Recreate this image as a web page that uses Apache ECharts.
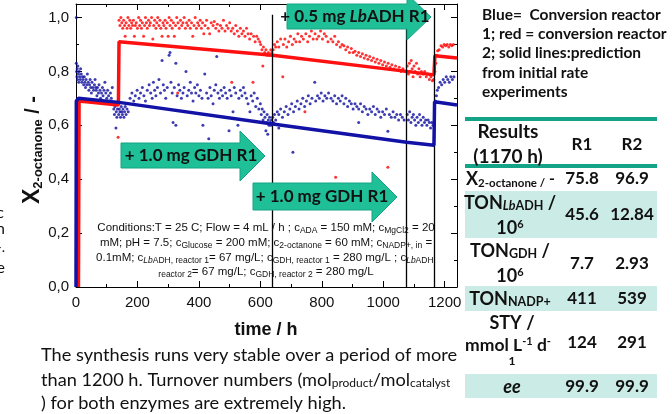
<!DOCTYPE html>
<html><head><meta charset="utf-8">
<script src="https://cdn.jsdelivr.net/npm/echarts@6/dist/echarts.min.js"></script>
<style>html,body{margin:0;padding:0;background:#fff}#c{width:672px;height:414px}</style>
</head><body><div id="c"></div>
<script>
// ---------- data ----------
const xTickValues = [0, 200, 400, 600, 800, 1000, 1200];
const yTickValues = [0, 0.2, 0.4, 0.6, 0.8, 1.0];
const eventTimes = [640, 1076, 1167];
const eventTops = [1.01, 1.0, 1.035];

// prediction lines [time h, conversion]
const reactor1Model = [[0,0],[1,0.69],[8,0.70],[140,0.685],[640,0.605],[1076,0.537],[1165,0.526],[1167,0.687],[1240,0.675]];
const reactor2Model = [[8,0],[10,0.69],[138,0.675],[140,0.91],[640,0.86],[1076,0.80],[1165,0.787],[1168,0.858],[1240,0.85]];

// measured conversions, reactor 1 (blue)
const reactor1Points = [
[1,1.0],[1,0.83],[2,0.80],[3,0.78],[4,0.81],[5,0.77],[6,0.82],[8,0.79],[9,0.76],[10,0.80],[12,0.78],[14,0.77],[15,0.81],[17,0.79],[19,0.76],[21,0.78],
[23,0.77],[25,0.75],[27,0.78],[29,0.76],[31,0.74],[33,0.77],[35,0.75],[37,0.79],[40,0.76],[42,0.73],[44,0.75],[46,0.77],[48,0.74],[50,0.72],[52,0.76],[55,0.74],[57,0.73],[60,0.75],[62,0.77],[64,0.74],
[66,0.73],[68,0.71],[70,0.74],[73,0.72],[75,0.75],[78,0.73],[80,0.70],[83,0.72],[86,0.74],[88,0.71],[91,0.73],[94,0.76],[97,0.72],[100,0.70],[103,0.73],[106,0.71],[109,0.69],[112,0.72],[115,0.70],[118,0.74],
[120,0.68],[123,0.66],[125,0.64],[127,0.67],[130,0.59],[131,0.65],[133,0.63],[135,0.66],[137,0.68],[139,0.64],[141,0.66],[143,0.65],[145,0.63],[147,0.67],[149,0.65],[151,0.64],[153,0.66],[156,0.63],[158,0.65],[160,0.67],[163,0.64],[166,0.66],[170,0.65],
[176,0.70],[182,0.72],[188,0.69],[193,0.71],[199,0.73],[205,0.70],[210,0.72],[216,0.74],[221,0.71],[226,0.69],[232,0.73],[238,0.75],[243,0.72],[248,0.70],[252,0.76],[256,0.73],[260,0.71],[265,0.74],[270,0.77],[275,0.72],[280,0.84],[284,0.75],[288,0.73],[292,0.70],[297,0.74],[303,0.86],[306,0.87],[309,0.76],[313,0.72],[316,0.61],[320,0.74],[325,0.83],[325,0.60],[329,0.71],[334,0.75],[338,0.73],[343,0.70],[348,0.72],[352,0.74],[358,0.80],[362,0.71],[367,0.73],[372,0.76],[376,0.72],[381,0.69],[386,0.74],[390,0.72],[395,0.75],[400,0.71],[405,0.73],[410,0.70],[413,0.60],
[419,0.79],[425,0.72],[430,0.70],[432,0.55],[436,0.74],[440,0.71],[446,0.68],[450,0.73],[455,0.75],[458,0.855],[462,0.72],[467,0.70],[472,0.73],[477,0.71],[482,0.74],[487,0.72],[492,0.70],[498,0.58],[500,0.73],[505,0.71],[511,0.65],[515,0.74],[520,0.72],[527,0.60],[530,0.70],[535,0.73],[540,0.71],[545,0.74],[550,0.72],[555,0.70],[560,0.68],[566,0.65],[570,0.71],[575,0.69],[580,0.72],[585,0.67],[590,0.70],[595,0.66],
[600,0.68],[603,0.64],[606,0.66],[609,0.62],[612,0.65],[615,0.63],[618,0.58],[620,0.61],[622,0.64],[624,0.567],[626,0.62],[628,0.60],[630,0.63],[632,0.61],[634,0.60],[636,0.62],
[640,0.63],[643,0.61],[646,0.64],[650,0.62],[655,0.65],[660,0.59],[660,0.64],[666,0.66],[672,0.63],[678,0.65],[684,0.67],[690,0.64],[696,0.66],[702,0.68],[706,0.50],[708,0.65],[714,0.67],[720,0.69],[726,0.66],[732,0.68],[738,0.70],[744,0.67],[750,0.69],[756,0.71],[762,0.68],[768,0.70],[777,0.76],[780,0.69],[786,0.71],[792,0.70],[798,0.72],[804,0.69],[810,0.71],[816,0.70],[822,0.72],
[830,0.70],[836,0.69],[842,0.71],[848,0.68],[854,0.70],[860,0.69],[866,0.71],[872,0.68],[878,0.70],[884,0.67],[890,0.69],[896,0.68],[902,0.66],[908,0.68],[914,0.67],[920,0.61],[920,0.66],[926,0.68],[932,0.65],[938,0.67],[944,0.66],[950,0.64],[956,0.66],[962,0.65],[968,0.67],[974,0.64],[980,0.66],[986,0.65],[992,0.63],[998,0.65],[1004,0.64],[1010,0.66],[1015,0.578],[1020,0.64],[1026,0.63],[1032,0.65],[1038,0.63],[1044,0.64],[1050,0.62],[1056,0.64],[1062,0.63],[1068,0.62],
[1078,0.64],[1082,0.62],[1086,0.65],[1090,0.61],[1094,0.63],[1098,0.64],[1102,0.62],[1106,0.60],[1110,0.63],[1114,0.61],[1118,0.64],[1122,0.62],[1126,0.60],[1130,0.63],[1134,0.61],[1138,0.62],[1142,0.60],[1146,0.62],[1150,0.61],[1154,0.59],[1158,0.61],[1162,0.60],
[1167,0.66],[1170,0.69],[1173,0.71],[1176,0.73],[1180,0.74],
[1185,0.76],[1190,0.75],[1195,0.77],[1200,0.76],[1205,0.78],[1210,0.77],[1215,0.76],[1220,0.78],[1225,0.77],[1230,0.78]
];

// measured conversions, reactor 2 (red)
const reactor2Points = [
[137,0.556],[140,0.99],[143,0.97],[146,1.0],[149,0.98],[152,0.96],[155,0.99],[158,0.97],[160,0.93],[163,0.98],[166,0.96],[169,1.0],[172,0.97],[175,0.99],[178,0.96],[181,0.98],[184,0.97],[187,0.99],[190,0.93],[193,0.97],[196,0.98],[200,0.96],[204,1.0],[207,0.97],[210,0.99],[213,0.96],[216,0.98],[220,0.93],[223,0.97],[226,1.0],[229,0.98],[232,0.96],[236,0.99],[239,0.97],[242,0.98],[246,1.0],[250,0.92],[253,0.97],[256,0.99],[260,0.96],[263,0.98],[266,1.0],[270,0.97],[273,0.99],[276,0.96],[280,0.93],[283,0.98],[286,0.97],[290,0.99],[293,0.96],[297,0.98],[300,0.93],[303,1.0],[306,0.97],[310,0.99],[313,0.96],[317,0.98],[320,0.93],[324,0.97],[328,1.0],[331,0.72],[332,0.98],[336,0.96],[340,0.99],[344,0.97],[348,0.98],[352,1.0],[356,0.96],[360,0.98],[364,0.97],[368,0.99],[372,0.96],[376,0.98],[380,0.93],[384,0.97],[388,1.0],[392,0.96],[396,0.98],[400,0.97],[404,0.99],[408,0.96],[412,0.98],[416,0.94],[420,0.97],
[425,0.99],[430,0.96],[435,0.94],[440,0.98],[446,0.97],[450,0.985],[455,0.96],[460,0.975],[465,0.95],[470,0.97],[475,0.96],[480,0.99],[485,0.95],[490,0.97],[495,0.96],[500,0.98],[505,0.95],[507,0.76],[510,0.96],[515,0.94],[520,0.97],[525,0.95],[530,0.93],[535,0.96],[540,0.94],[545,0.95],[550,0.93],[555,0.96],[560,0.94],[565,0.92],[570,0.94],[576,0.76],[578,0.93],[583,0.91],[588,0.93],[593,0.92],[598,0.91],
[601,0.90],[605,0.88],[608,0.82],[610,0.89],[614,0.87],[618,0.88],[622,0.86],[626,0.87],[630,0.86],[634,0.88],[637,0.87],
[642,0.88],[646,0.90],[650,0.89],[655,0.91],[660,0.89],[666,0.92],[673,0.78],[675,0.90],[680,0.92],[686,0.89],[692,0.91],[698,0.93],[704,0.90],[710,0.92],[716,0.91],[722,0.94],[728,0.91],[734,0.93],[740,0.92],[745,0.65],[748,0.94],[754,0.91],[760,0.93],[766,0.95],[772,0.92],[778,0.94],[784,0.92],[790,0.93],[796,0.95],[802,0.92],[808,0.94],[814,0.93],[820,0.91],
[830,0.92],[836,0.91],[842,0.93],[845,0.407],[848,0.90],[854,0.91],[860,0.89],[866,0.90],[872,0.895],[878,0.88],[884,0.89],[890,0.87],[896,0.885],[902,0.87],[908,0.875],[914,0.86],[920,0.87],[926,0.855],[932,0.865],[938,0.85],[944,0.86],[950,0.845],[956,0.855],[962,0.84],[968,0.85],[974,0.835],[980,0.845],[986,0.83],[992,0.84],[998,0.825],[1004,0.835],[1010,0.82],[1015,0.444],[1016,0.83],[1022,0.815],[1028,0.825],[1034,0.81],[1040,0.82],[1046,0.805],[1052,0.815],[1058,0.80],[1064,0.81],[1070,0.80],
[1078,0.82],[1082,0.79],[1085,0.83],[1088,0.80],[1091,0.84],[1094,0.81],[1097,0.78],[1100,0.82],[1104,0.80],[1108,0.83],[1112,0.79],[1116,0.81],[1120,0.78],[1124,0.80],[1130,0.79],[1135,0.80],[1140,0.78],[1145,0.79],[1150,0.77],[1155,0.78],[1160,0.765],[1164,0.77],
[1168,0.80],[1171,0.83],[1174,0.86],[1177,0.877],[1182,0.88],
[1188,0.895],[1193,0.89],[1198,0.90],[1203,0.895],[1208,0.90],[1213,0.89],[1218,0.90],[1223,0.895],[1228,0.90]
];

// results table
const r1Values = ['75.8', '45.6', '7.7', '411', '124', '99.9'];
const r2Values = ['96.9', '12.84', '2.93', '539', '291', '99.9'];

// ---------- chart ----------
const chart = echarts.init(document.getElementById('c'), null, {renderer: 'canvas'});
const AX = '#000';
const tickFmt = v => (yTickValues.some(t => Math.abs(t - v) < 1e-6) ? v.toFixed(1).replace('.', ',') : '');
const xFmt = v => (xTickValues.indexOf(Math.round(v)) >= 0 && Math.abs(v - Math.round(v)) < 1e-6 ? String(Math.round(v)) : '');

function xAx(pos, labels) {
  return {
    type: 'value', position: pos, min: 0, max: 1240, interval: 200,
    axisLine: {show: true, onZero: false, lineStyle: {color: AX, width: 1}},
    axisTick: {show: true, inside: true, length: 6, lineStyle: {color: AX}},
    minorTick: {show: true, splitNumber: 2, length: 3, lineStyle: {color: AX}},
    splitLine: {show: false}, minorSplitLine: {show: false},
    axisLabel: {show: labels, color: '#111', fontSize: 15, fontFamily: 'Liberation Sans', margin: 8, formatter: xFmt}
  };
}
function yAx(pos, labels) {
  return {
    type: 'value', position: pos, min: 0, max: 1.05, interval: 0.2,
    axisLine: {show: true, onZero: false, lineStyle: {color: AX, width: 1}},
    axisTick: {show: true, inside: true, length: 6, lineStyle: {color: AX}},
    minorTick: {show: true, splitNumber: 2, length: 3, lineStyle: {color: AX}},
    splitLine: {show: false}, minorSplitLine: {show: false},
    axisLabel: {show: labels, color: '#111', fontSize: 15, fontFamily: 'Liberation Sans', margin: 7, formatter: tickFmt}
  };
}

const TEAL = '#1fbf98', TEAL_DARK = '#13a386', TEAL_LIGHT = '#cbece6';

function arrow(x0, x1, yTop, yBot, headTop, headBot, tipX) {
  const yMid = (headTop + headBot) / 2;
  return {
    type: 'polygon', z: 50,
    shape: {points: [[x0, yTop], [x1, yTop], [x1, headTop], [tipX, yMid], [x1, headBot], [x1, yBot], [x0, yBot]]},
    style: {fill: TEAL, stroke: '#16a383', lineWidth: 1}
  };
}
function T(x, y, text, st, extra) {
  return Object.assign({type: 'text', x: x, y: y, z: 60,
    style: Object.assign({text: text, fill: '#111', fontFamily: 'Lato', fontSize: 16, fontWeight: 'bold',
      align: 'center', verticalAlign: 'middle', textAlign: 'center', textVerticalAlign: 'middle'}, st)}, extra || {});
}
const sub = (fs, extra) => Object.assign({fontSize: fs, fontFamily: 'Lato', fontWeight: 'bold', fill: '#111', verticalAlign: 'bottom', lineHeight: fs + 1}, extra || {});
const sup = (fs, extra) => Object.assign({fontSize: fs, fontFamily: 'Lato', fontWeight: 'bold', fill: '#111', verticalAlign: 'top', lineHeight: fs + 1}, extra || {});

const condRich = {
  s: {fontSize: 8.5, fontFamily: 'Liberation Sans', fill: '#111', verticalAlign: 'bottom', lineHeight: 9},
  si: {fontSize: 8.5, fontFamily: 'Liberation Sans', fontStyle: 'italic', fill: '#111', verticalAlign: 'bottom', lineHeight: 9}
};
const condText =
  'Conditions:T = 25 C; Flow = 4 mL / h ; c{s|ADA} = 150 mM; c{s|MgCl2} = 20\n' +
  'mM; pH = 7.5; c{s|Glucose} = 200 mM; c{s|2-octanone} = 60 mM; c{s|NADP+, in} =\n' +
  '0.1mM; c{si|Lb}{s|ADH, reactor 1}= 67 mg/L; c{s|GDH, reactor 1} = 280 mg/L ; c{si|Lb}{s|ADH,}\n' +
  '{s|reactor 2}= 67 mg/L; c{s|GDH, reactor 2} = 280 mg/L';

const graphics = [
  {type: 'rect', z: 1, shape: {x: 465, y: 191, width: 192, height: 47}, style: {fill: TEAL_LIGHT}},
  {type: 'rect', z: 1, shape: {x: 465, y: 286, width: 192, height: 25}, style: {fill: TEAL_LIGHT}},
  {type: 'rect', z: 1, shape: {x: 465, y: 374, width: 192, height: 24}, style: {fill: TEAL_LIGHT}},
  {type: 'rect', z: 1, shape: {x: 465, y: 117, width: 192, height: 4}, style: {fill: TEAL_DARK}},
  {type: 'rect', z: 1, shape: {x: 465, y: 164, width: 192, height: 4}, style: {fill: TEAL_DARK}},
  arrow(121, 240, 143, 168, 131, 181, 265),
  arrow(253, 372, 183, 210, 172, 222, 397),
  arrow(287, 407, 4, 29, -6, 40, 431),
  T(191, 156, '+ 1.0 mg GDH R1', {fontSize: 17}),
  T(322, 197, '+ 1.0 mg GDH R1', {fontSize: 17}),
  T(355, 17, '+ 0.5 mg {i|Lb}ADH R1', {fontSize: 17, rich: {i: {fontSize: 17, fontFamily: 'Lato', fontWeight: 'bold', fontStyle: 'italic', fill: '#111'}}}),
  T(266, 250, condText, {fontFamily: 'Liberation Sans', fontWeight: 'normal', fontSize: 11.5, lineHeight: 14.7, rich: condRich}),
  T(266, 330, 'time / h', {fontFamily: 'Liberation Sans', fontSize: 18}),
  T(33, 150, '{x|X}{s|2-octanone} {n|/ -}', {fontFamily: 'Liberation Sans', fontSize: 20,
    rich: {x: {fontSize: 23, fontFamily: 'Liberation Sans', fontWeight: 'bold', fill: '#111', lineHeight: 24},
      s: {fontSize: 13, fontFamily: 'Liberation Sans', fontWeight: 'bold', fill: '#111', verticalAlign: 'bottom', lineHeight: 14},
      n: {fontSize: 20, fontFamily: 'Liberation Sans', fontWeight: 'bold', fill: '#111', lineHeight: 24}}}, {rotation: Math.PI / 2}),
  T(482, 5, 'Blue=  Conversion reactor\n1; red = conversion reactor\n2; solid lines:prediction\nfrom initial rate\nexperiments',
    {fontSize: 15.5, lineHeight: 19.3, align: 'left', textAlign: 'left', verticalAlign: 'top', textVerticalAlign: 'top'}),
  T(508, 132, 'Results', {fontSize: 19}), T(508, 157, '(1170 h)', {fontSize: 19}),
  T(582, 145, 'R1', {fontSize: 17}), T(632, 145, 'R2', {fontSize: 17}),
  T(466, 179, '{x|X}{s|2-octanone /} -', {fontSize: 16, align: 'left', textAlign: 'left', rich: {x: {fontSize: 18, fontFamily: 'Lato', fontWeight: 'bold', fill: '#111', lineHeight: 20}, s: sub(11.5)}}),
  T(510, 203, 'TON{si|Lb}{s|ADH} /', {fontSize: 18, rich: {s: sub(12.5), si: sub(12.5, {fontStyle: 'italic'})}}),
  T(510, 228, '10{p|6}', {fontSize: 18, rich: {p: sup(11)}}),
  T(510, 251, 'TON{s|GDH} /', {fontSize: 18, rich: {s: sub(12.5)}}),
  T(510, 276, '10{p|6}', {fontSize: 18, rich: {p: sup(11)}}),
  T(510, 299, 'TON{s|NADP+}', {fontSize: 18, rich: {s: sub(12.5)}}),
  T(512, 323, 'STY /', {fontSize: 18}),
  T(508, 345, 'mmol L{p|-1} d{p|-}', {fontSize: 17.5, rich: {p: sup(11)}}),
  T(512, 361, '1', {fontSize: 12}),
  T(512, 387, 'ee', {fontSize: 18, fontStyle: 'italic'}),
  T(41, 355, 'The synthesis runs very stable over a period of more', {fontWeight: 'normal', fontSize: 18.2, align: 'left', textAlign: 'left'}),
  T(41, 380, 'than 1200 h. Turnover numbers (mol{s|product}/mol{s|catalyst}', {fontWeight: 'normal', fontSize: 18.2, align: 'left', textAlign: 'left',
    rich: {s: {fontSize: 12, fontFamily: 'Lato', fill: '#111', verticalAlign: 'bottom', lineHeight: 11}}}),
  T(41, 403, ') for both enzymes are extremely high.', {fontWeight: 'normal', fontSize: 18.2, align: 'left', textAlign: 'left'}),
  T(4, 213, 'c', {fontWeight: 'normal', fontSize: 16, align: 'right', textAlign: 'right'}),
  T(5, 229, 'n', {fontWeight: 'normal', fontSize: 16, align: 'right', textAlign: 'right'}),
  T(5, 247, '-.', {fontWeight: 'normal', fontSize: 14, align: 'right', textAlign: 'right'}),
  T(5, 268, 'e', {fontWeight: 'normal', fontSize: 16, align: 'right', textAlign: 'right'})
];
const valueRowsY = [179, 215, 264, 299, 343, 387];
valueRowsY.forEach((y, i) => {
  graphics.push(T(582, y, r1Values[i], {fontSize: 17}));
  graphics.push(T(632, y, r2Values[i], {fontSize: 17}));
});

const option = {
  animation: false,
  backgroundColor: '#fff',
  grid: {left: 76, top: 4, right: 215, bottom: 127, containLabel: false},
  xAxis: [xAx('bottom', true), xAx('top', false)],
  yAxis: [yAx('left', true), yAx('right', false)],
  series: [
    {type: 'scatter', data: reactor2Points, symbolSize: 3, itemStyle: {color: '#ff0000'}, z: 3,
      markLine: {silent: true, symbol: 'none', label: {show: false}, lineStyle: {color: '#000', width: 1.3, type: 'solid'},
        data: eventTimes.map((t, i) => [{coord: [t, 0]}, {coord: [t, eventTops[i]]}])}},
    {type: 'scatter', data: reactor1Points, symbolSize: 3, itemStyle: {color: '#0c0c9e'}, z: 3},
    {type: 'line', data: reactor2Model, showSymbol: false, lineStyle: {color: '#ff1010', width: 3.5}, z: 4},
    {type: 'line', data: reactor1Model, showSymbol: false, lineStyle: {color: '#1212a6', width: 3.5}, z: 5}
  ],
  graphic: graphics
};
chart.setOption(option);
</script>
</body></html>
